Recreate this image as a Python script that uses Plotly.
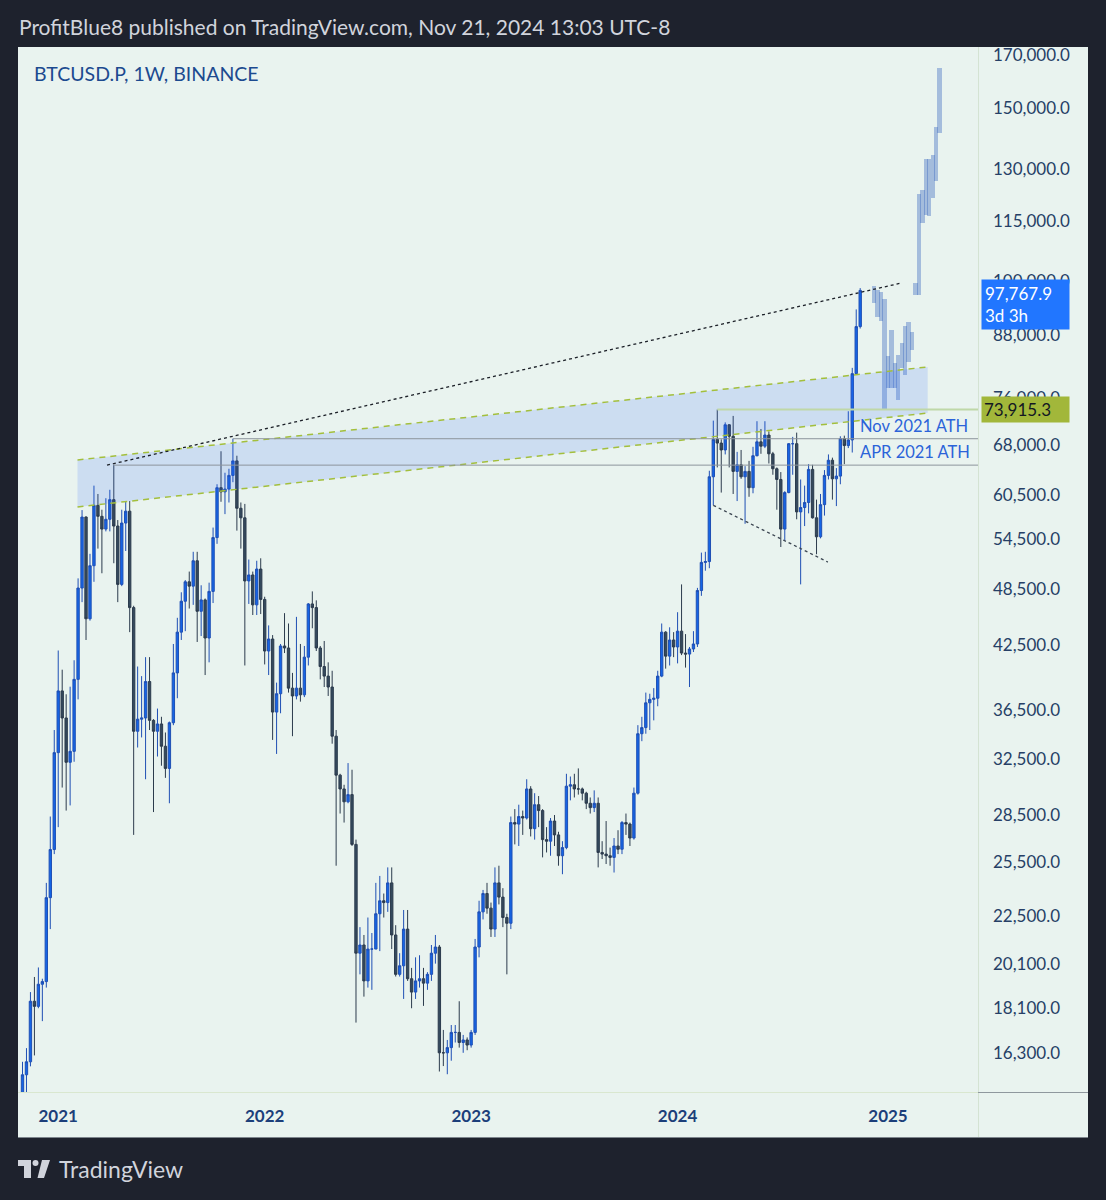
import numpy as np
import pandas as pd
import plotly.graph_objects as go

# ---------------- data (weekly BTCUSD.P, Binance) ----------------
start_week = "2020-11-02"

opens = [
    # 2020
    13560, 15480, 15960, 18400, 18180, 19150, 19270, 23470, 26280,
    # 2021
    33000, 38150, 35800, 32260, 33100, 39200, 48580, 57400, 45200, 51200, 59000, 57500, 55800,
    57100, 59800, 56200, 49000, 56600, 58200, 46400, 34700, 35700, 35800, 39000, 35600, 34700,
    35300, 33500, 31800, 35400, 39800, 43800, 47100, 49300, 48800, 51800, 46000, 47250, 43200,
    48200, 54700, 61500, 60900, 61300, 63300, 65500, 58600, 57300, 49400, 50100, 46700, 50800,
    # 2022
    47300, 41900, 43100, 36300, 37900, 42400, 42200, 38400, 37700, 38400, 37800, 41300, 46800,
    46400, 42200, 40400, 39500, 38500, 34300, 31300, 30300, 29400, 29900, 26600, 20600, 21000,
    19300, 20800, 20800, 22600, 23300, 23200, 24300, 21500, 19600, 20000, 21800, 19400, 18800,
    19300, 19400, 19200, 19600, 20600, 20900, 16300, 16300, 16500, 17100, 17100, 16700, 16800,
    # 2023
    16600, 17100, 20900, 22700, 23700, 22900, 21800, 24300, 23500, 22400, 22100, 28000, 27900,
    28400, 28300, 30300, 27600, 29200, 28800, 26900, 26800, 28100, 27200, 25900, 26400, 30500,
    30600, 30300, 30300, 30000, 29300, 29000, 29300, 26100, 26000, 25900, 25800, 26500, 26300,
    28000, 27900, 27000, 30000, 34500, 35000, 37100, 37400, 37500, 39500, 43800, 41400, 43000,
    # 2024
    42300, 43900, 41700, 41600, 42100, 42600, 48300, 51600, 51700, 63100, 68900, 68300, 67200,
    71300, 69400, 63900, 64900, 63100, 63900, 61500, 66300, 68500, 67800, 69600, 66600, 64300,
    62700, 55800, 60800, 68200, 68200, 58100, 58700, 59400, 64200, 57300, 54800, 59100, 63300,
    65600, 62800, 63200, 69000, 67900, 68800, 80400, 89800,
]
highs = [
    15960, 16480, 18800, 19480, 19920, 19400, 24300, 28400, 34800,
    41950, 40100, 37850, 38530, 41000, 49700, 58350, 57500, 52650, 61800, 60600, 58400, 60000,
    61200, 64850, 57000, 58400, 59600, 59600, 46600, 40400, 39500, 41300, 41300, 35700, 36600,
    35900, 34600, 35500, 42600, 45300, 48100, 49500, 50500, 52900, 52900, 48900, 47400, 49200,
    56000, 62000, 67000, 63700, 64300, 69000, 66300, 59400, 59200, 51950, 50500, 51800, 52100,
    47600, 44500, 43500, 38900, 42600, 45800, 44700, 39800, 45400, 42600, 42400, 46900, 48200,
    47200, 42400, 42900, 40800, 40000, 34800, 31400, 30600, 32200, 31700, 26900, 21900, 21500,
    22400, 21600, 24300, 24700, 23700, 25200, 25200, 22000, 20600, 22800, 22800, 19900, 20400,
    20500, 19900, 19700, 21000, 21500, 21000, 17200, 16800, 17400, 17400, 18400, 17000, 16900,
    17200, 21300, 23300, 23900, 24300, 23200, 25200, 25300, 24000, 22600, 28400, 28900, 29200,
    28800, 31000, 30500, 30000, 29800, 28900, 27700, 28300, 28500, 27400, 26800, 31400, 31200,
    31400, 31800, 30400, 30100, 29700, 30200, 29700, 26800, 28100, 26400, 27000, 27500, 28100,
    28600, 28000, 30400, 35200, 35900, 38000, 37900, 38400, 40000, 44700, 43900, 44300, 43800,
    45900, 49000, 43600, 42300, 43900, 48600, 52800, 52900, 64000, 72000, 73900, 68900, 71700,
    71400, 72800, 66900, 67200, 64700, 65500, 67700, 71900, 70600, 71900, 70200, 66900, 64500,
    63800, 61000, 68300, 69300, 70000, 62700, 61800, 65000, 64900, 59800, 60600, 64100, 66500,
    66000, 64400, 69400, 69500, 73600, 81500, 93500, 98300,
]
lows = [
    13200, 14800, 15790, 16200, 18100, 17560, 19000, 21800, 26000,
    27700, 30400, 28800, 29150, 32300, 37400, 47000, 43000, 45000, 49300, 53300, 50300, 55500,
    55500, 51500, 47000, 48800, 53000, 43800, 27200, 33400, 34200, 31000, 34800, 28700, 32700,
    32000, 31100, 29300, 35200, 37500, 43000, 43900, 46300, 46700, 42800, 43400, 39600, 40800,
    46900, 53900, 59500, 57800, 59400, 62300, 55600, 53300, 40500, 46800, 45600, 45600, 45700,
    40600, 39600, 34000, 32900, 36200, 41700, 38000, 34300, 37400, 37200, 37600, 40500, 44200,
    41900, 39200, 38500, 37700, 33700, 25300, 28600, 28000, 29300, 26500, 17500, 19600, 18600,
    19000, 18900, 20800, 20700, 22400, 22700, 20800, 19500, 19500, 18500, 19300, 18100, 18500,
    19000, 18200, 18900, 19300, 20100, 15600, 15800, 15500, 16000, 16700, 16500, 16300, 16400,
    16500, 17000, 20400, 22300, 22600, 21400, 21400, 23100, 21900, 19600, 21800, 26600, 26500,
    27200, 28200, 27100, 26900, 27700, 25800, 26100, 25900, 26500, 25300, 24800, 26300, 29500,
    29700, 29900, 29500, 28900, 28600, 28700, 25200, 25700, 25400, 25300, 24900, 26000, 26000,
    27200, 26500, 26900, 29900, 33900, 34500, 34800, 35600, 36800, 39400, 40200, 40500, 41300,
    40700, 41500, 40300, 38500, 41800, 42300, 47700, 50600, 50900, 59000, 64500, 60800, 66500,
    64500, 60600, 59600, 62800, 56500, 60200, 60700, 66200, 66600, 67500, 65100, 63400, 58400,
    53500, 54300, 60700, 63400, 57100, 49000, 56200, 57900, 57200, 52600, 54600, 57600, 62700,
    59800, 58900, 62000, 65000, 67500, 66800, 80200, 89400,
]
closes = [
    15480, 15960, 18400, 18180, 19150, 19270, 23470, 26280, 33000,
    38150, 35800, 32260, 33100, 39200, 48580, 57400, 45200, 51200, 59000, 57500, 55800, 57100,
    59800, 56200, 49000, 56600, 58200, 46400, 34700, 35700, 35800, 39000, 35600, 34700, 35300,
    33500, 31800, 35400, 39800, 43800, 47100, 49300, 48800, 51800, 46000, 47250, 43200, 48200,
    54700, 61500, 60900, 61300, 63300, 65500, 58600, 57300, 49400, 50100, 46700, 50800, 47300,
    41900, 43100, 36300, 37900, 42400, 42200, 38400, 37700, 38400, 37800, 41300, 46800, 46400,
    42200, 40400, 39500, 38500, 34300, 31300, 30300, 29400, 29900, 26600, 20600, 21000, 19300,
    20800, 20800, 22600, 23300, 23200, 24300, 21500, 19600, 20000, 21800, 19400, 18800, 19300,
    19400, 19200, 19600, 20600, 20900, 16300, 16300, 16500, 17100, 17100, 16700, 16800, 16600,
    17100, 20900, 22700, 23700, 22900, 21800, 24300, 23500, 22400, 22100, 28000, 27900, 28400,
    28300, 30300, 27600, 29200, 28800, 26900, 26800, 28100, 27200, 25900, 26400, 30500, 30600,
    30300, 30300, 30000, 29300, 29000, 29300, 26100, 26000, 25900, 25800, 26500, 26300, 28000,
    27900, 27000, 30000, 34500, 35000, 37100, 37400, 37500, 39500, 43800, 41400, 43000, 42300,
    43900, 41700, 41600, 42100, 42600, 48300, 51600, 51700, 63100, 68900, 68300, 67200, 71300,
    69400, 63900, 64900, 63100, 63900, 61500, 66300, 68500, 67800, 69600, 66600, 64300, 62700,
    55800, 60800, 68200, 68200, 58100, 58700, 59400, 64200, 57300, 54800, 59100, 63300, 65600,
    62800, 63200, 69000, 67900, 68800, 80400, 89800, 97767.9,
]
assert len(opens) == len(highs) == len(lows) == len(closes)

# projected (ghost) bars pattern
ghost_start = "2024-12-12 12:00"
ghost_low = [94900, 91900, 91000, 73800, 77800, 77800, 77800, 75600, 81500, 80200,
             82600, 85000, 96700, 96700, 114600, 116700, 116500, 121500, 126400, 141500]
ghost_high = [98800, 97900, 97400, 95800, 83800, 89100, 82500, 84000, 86400, 89900,
              90800, 88700, 99500, 122600, 123800, 133100, 133100, 134400, 143500, 164900]

# drawings
trend_dates = ["2021-03-31", "2025-01-30"]
trend_prices = [64850, 99500]
wedge_dates = ["2024-03-04", "2024-09-22"]
wedge_prices = [59000, 51640]
channel_dates = ["2021-02-07", "2025-03-17"]
channel_upper = [65640, 81680]
channel_lower = [58780, 73300]
nov21_ath_date, nov21_ath = "2021-11-08", 69000
apr21_ath_date, apr21_ath = "2021-04-12", 64850
mar24_date, last_ath = "2024-03-11", 73915.3
last_price = 97767.9

y_ticks = [16300, 18100, 20100, 22500, 25500, 28500, 32500, 36500, 42500, 48500,
           54500, 60500, 68000, 76000, 88000, 100000, 115000, 130000, 150000, 170000]
year_ticks = ["2021-01-04", "2022-01-03", "2023-01-02", "2024-01-01", "2025-01-06"]
year_labels = ["2021", "2022", "2023", "2024", "2025"]

# ---------------- styling ----------------
W, H = 1106, 1200
PL, PR, PT, PB = 18, 978, 47, 1092          # plot area in pixels
FRAME = "#1e222d"
BG = "#e9f3ef"
FONT = "Lato"
AXIS_TXT = "#263f66"

def fx(px):
    return (px - PL) / (PR - PL)

def fy(py):
    return (PB - py) / (PB - PT)

dates = pd.date_range(start_week, periods=len(opens), freq="W-MON")
week = pd.Timedelta(days=7)
t0 = pd.Timestamp(start_week)
x_range = [t0 - 1.133 * week, t0 + 240.67 * week]
x_end = x_range[1]

ghost_dates = pd.date_range(ghost_start, periods=len(ghost_low), freq="146h")

fig = go.Figure()

# channel fill
fig.add_trace(go.Scatter(
    x=[channel_dates[0], channel_dates[1], channel_dates[1], channel_dates[0], channel_dates[0]],
    y=[channel_upper[0], channel_upper[1], channel_lower[1], channel_lower[0], channel_upper[0]],
    mode="lines", fill="toself", fillcolor="rgba(41,98,255,0.15)",
    line=dict(width=0), hoverinfo="skip"))
for ys in (channel_upper, channel_lower):
    fig.add_trace(go.Scatter(x=channel_dates, y=ys, mode="lines",
                             line=dict(color="#a3bf3c", width=1.5, dash="6px,5px"),
                             hoverinfo="skip"))

# horizontal levels
fig.add_trace(go.Scatter(x=[nov21_ath_date, x_end], y=[nov21_ath, nov21_ath], mode="lines",
                         line=dict(color="#8c949c", width=1), hoverinfo="skip"))
fig.add_trace(go.Scatter(x=[apr21_ath_date, x_end], y=[apr21_ath, apr21_ath], mode="lines",
                         line=dict(color="#8c949c", width=1), hoverinfo="skip"))
fig.add_trace(go.Scatter(x=[mar24_date, x_end], y=[last_ath, last_ath], mode="lines",
                         line=dict(color="#bfd8a8", width=2), hoverinfo="skip"))

# ghost bars
fig.add_trace(go.Bar(
    x=ghost_dates, base=ghost_low,
    y=[h - l for h, l in zip(ghost_high, ghost_low)],
    width=6.6e8, marker=dict(color="rgba(52,100,190,0.38)", line=dict(width=0)),
    hoverinfo="skip"))

# candles
fig.add_trace(go.Candlestick(
    x=dates, open=opens, high=highs, low=lows, close=closes,
    increasing=dict(line=dict(color="#1f4fb4", width=1), fillcolor="#1565e6"),
    decreasing=dict(line=dict(color="#2c3b4d", width=1), fillcolor="#354a5e"),
    whiskerwidth=0, hoverinfo="skip"))

# dotted trend lines
fig.add_trace(go.Scatter(x=trend_dates, y=trend_prices, mode="lines",
                         line=dict(color="#1b1f27", width=1.3, dash="dot"), hoverinfo="skip"))
fig.add_trace(go.Scatter(x=wedge_dates, y=wedge_prices, mode="lines",
                         line=dict(color="#3a4450", width=1.3, dash="dot"), hoverinfo="skip"))

shapes = [
    # chart panel background (incl. axis areas)
    dict(type="rect", xref="paper", yref="paper", x0=fx(18), x1=fx(1088), y0=fy(1137), y1=fy(47),
         fillcolor=BG, line=dict(width=0), layer="below"),
    # axis separators
    dict(type="line", xref="paper", yref="paper", x0=fx(978.5), x1=fx(978.5), y0=fy(1137), y1=fy(47),
         line=dict(color="#d4e3d3", width=1)),
    dict(type="line", xref="paper", yref="paper", x0=fx(18), x1=fx(978), y0=fy(1092.5), y1=fy(1092.5),
         line=dict(color="#d9e7cf", width=1)),
    dict(type="line", xref="paper", yref="paper", x0=fx(978), x1=fx(1088), y0=fy(1092.5), y1=fy(1092.5),
         line=dict(color="#8f989e", width=1)),
    dict(type="line", xref="paper", yref="paper", x0=fx(18), x1=fx(1088), y0=fy(1137.5), y1=fy(1137.5),
         line=dict(color="#7d858c", width=1)),
    # TradingView logo
    dict(type="rect", xref="paper", yref="paper", x0=fx(18), x1=fx(31), y0=fy(1166), y1=fy(1160),
         fillcolor="#d1d4dc", line=dict(width=0)),
    dict(type="rect", xref="paper", yref="paper", x0=fx(24), x1=fx(31), y0=fy(1178), y1=fy(1160),
         fillcolor="#d1d4dc", line=dict(width=0)),
    dict(type="circle", xref="paper", yref="paper", x0=fx(32.5), x1=fx(38.5), y0=fy(1166), y1=fy(1160),
         fillcolor="#d1d4dc", line=dict(width=0)),
    dict(type="path", xref="paper", yref="paper",
         path=f"M {fx(42)},{fy(1160)} L {fx(50)},{fy(1160)} L {fx(44)},{fy(1178)} L {fx(37.5)},{fy(1178)} Z",
         fillcolor="#d1d4dc", line=dict(width=0)),
]

annotations = [
    dict(text="ProfitBlue8 published on TradingView.com, Nov 21, 2024 13:03 UTC-8",
         xref="paper", yref="paper", x=fx(17), y=fy(27), xanchor="left", yanchor="middle",
         showarrow=False, font=dict(family=FONT, size=21, color="#d1d4dc")),
    dict(text="BTCUSD.P, 1W, BINANCE", xref="paper", yref="paper", x=fx(32), y=fy(74),
         xanchor="left", yanchor="middle", showarrow=False,
         font=dict(family=FONT, size=19.5, color="#1c4a8f")),
    dict(text="TradingView", xref="paper", yref="paper", x=fx(57), y=fy(1169),
         xanchor="left", yanchor="middle", showarrow=False,
         font=dict(family=FONT, size=23, color="#d1d4dc")),
    dict(text="Nov 2021 ATH", xref="paper", yref="y", x=fx(858), y=np.log10(nov21_ath),
         xanchor="left", yanchor="bottom", yshift=1, showarrow=False,
         font=dict(family=FONT, size=16.5, color="#2b63d9")),
    dict(text="APR 2021 ATH", xref="paper", yref="y", x=fx(858), y=np.log10(apr21_ath),
         xanchor="left", yanchor="bottom", yshift=1, showarrow=False,
         font=dict(family=FONT, size=16.5, color="#2b63d9")),
    dict(text=f"{last_price:,.1f}<br>3d 3h", xref="paper", yref="y", x=fx(981),
         y=np.log10(last_price), xanchor="left", yanchor="top", yshift=11, showarrow=False,
         align="left", bgcolor="#2176ff", borderpad=3, width=81,
         font=dict(family=FONT, size=17, color="#ffffff")),
    dict(text=f"{last_ath:,.1f}", xref="paper", yref="y", x=fx(981), y=np.log10(last_ath),
         xanchor="left", yanchor="middle", showarrow=False, align="left",
         bgcolor="#a2b73a", borderpad=2, width=83,
         font=dict(family=FONT, size=17, color="#131722")),
]

fig.update_layout(
    width=W, height=H,
    margin=dict(l=PL, r=W - PR, t=PT, b=H - PB),
    paper_bgcolor=FRAME, plot_bgcolor=BG,
    showlegend=False, boxgap=0.15, bargap=0,
    shapes=shapes, annotations=annotations,
    xaxis=dict(type="date", range=x_range, tickvals=year_ticks, ticktext=year_labels,
               showgrid=False, zeroline=False, showline=False, ticks="",
               ticklabelstandoff=12,
               tickfont=dict(family=FONT, size=17, color="#1c3f7a", weight="bold"),
               rangeslider=dict(visible=False), fixedrange=True),
    yaxis=dict(type="log", range=[4.1722, 5.2386], side="right",
               tickvals=y_ticks, ticktext=[f"{v:,.1f}" for v in y_ticks],
               showgrid=False, zeroline=False, showline=False, ticks="",
               ticklabelstandoff=14,
               tickfont=dict(family=FONT, size=17, color=AXIS_TXT), fixedrange=True),
)

fig.write_html("out.html", config={"displayModeBar": False},
               post_script="document.body.style.margin='0px';")
